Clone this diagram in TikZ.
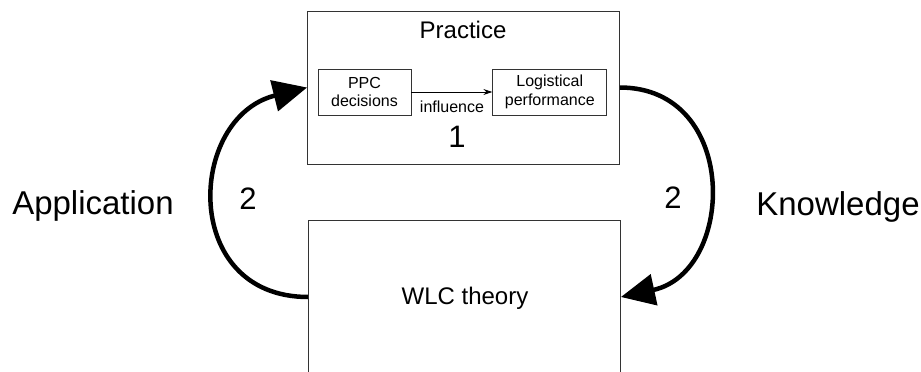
\documentclass[tikz,border=0pt]{standalone}
\usepackage{fontspec}
\setmainfont{Liberation Sans}
\usetikzlibrary{positioning,arrows.meta}
\tikzset{
  bigbox/.style={rectangle, draw=black!80, line width=0.8pt,
    minimum width=312pt, minimum height=153pt, inner sep=0pt},
  smallbox/.style={rectangle, draw=black!80, line width=0.8pt, align=center,
    minimum height=46pt, inner sep=2pt, font=\fontsize{16}{18.5}\selectfont},
  loopar/.style={-{Triangle[length=34pt,width=31pt]}, line width=4.5pt},
  infl/.style={-{Stealth[length=9pt,width=6pt]}, line width=1pt},
  big/.style={font=\fontsize{33}{40}\selectfont},
  mid/.style={font=\fontsize{24}{29}\selectfont},
  sml/.style={font=\fontsize{16}{19}\selectfont},
  num/.style={font=\fontsize{31}{37}\selectfont},
}

\begin{document}
\begin{tikzpicture}[x=1pt, y=-1pt]
  \clip (0,0) rectangle (921,372);
  \node[bigbox] (practice) at (463.5,87.5) {};
  \node[bigbox] (wlc) at (464.5,297) {};
  \node[mid, anchor=base] (ptitle) at (463,38) {Practice};
  \node[mid, anchor=base] (wtitle) at (465,304) {WLC theory};
  \node[smallbox, minimum width=93pt] (ppc) at (364.5,92) {PPC\\decisions};
  \node[smallbox, minimum width=114pt, right=81pt of ppc] (logp) {Logistical\\performance};
  \draw[infl] (ppc) -- (logp);
  \node[sml, anchor=base] (infl) at (452,112) {influence};
  \node[num, anchor=base] (one) at (457,147) {1};
  % the two loops between theory and practice
  \draw[loopar] (wlc.west) .. controls +(-128,0) and +(-120,30) .. (practice.west);
  \draw[loopar] (practice.east) .. controls +(120,0) and +(115,-25) .. (wlc.east);
  \node[num, anchor=base] (twol) at (248,209) {2};
  \node[num, anchor=base] (twor) at (673,208) {2};
  \node[big, anchor=base] (appl) at (93,214) {Application};
  \node[big, anchor=base] (know) at (838,215) {Knowledge};
\end{tikzpicture}
\end{document}
